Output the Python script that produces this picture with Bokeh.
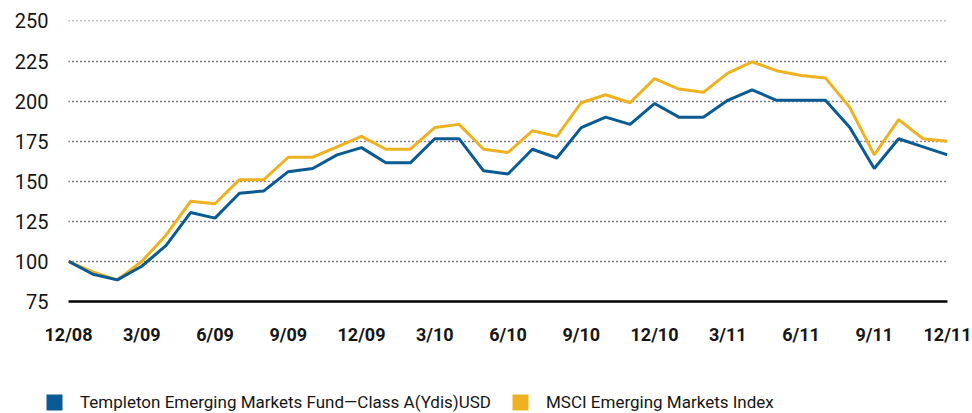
from bokeh.plotting import figure
from bokeh.layouts import column
from bokeh.models import Range1d, FixedTicker, Legend, LegendItem
from bokeh.embed import file_html
from bokeh.resources import INLINE

months = list(range(37))
tick_positions = [0, 3, 6, 9, 12, 15, 18, 21, 24, 27, 30, 33, 36]
tick_labels = ["12/08", "3/09", "6/09", "9/09", "12/09", "3/10", "6/10",
               "9/10", "12/10", "3/11", "6/11", "9/11", "12/11"]
y_ticks = [75, 100, 125, 150, 175, 200, 225, 250]

fund = [100, 92, 88.5, 97, 110, 130.5, 127, 142.5, 144, 156, 158, 166.5, 171,
        161.5, 161.5, 176.5, 176.5, 156.5, 154.5, 170, 164.5, 183.5, 190, 185.5,
        198.5, 190, 190, 200.5, 207, 200.5, 200.5, 200.5, 183.5, 158, 176.5,
        171.5, 166.5]
index = [100, 93.5, 88.5, 100, 116.5, 137.5, 136, 151, 151, 165, 165, 171.5, 178,
         170, 170, 183.5, 185.5, 170, 168, 181.5, 178, 199, 204, 199,
         214, 207.5, 205.5, 217.5, 224.5, 219, 216, 214.5, 196, 166.5, 188.5,
         176.5, 175]
fund_name = "Templeton Emerging Markets Fund\u2014Class A(Ydis)USD"
index_name = "MSCI Emerging Markets Index"

BLUE = "#0A5A94"
GOLD = "#EEB220"
TXT = "#161616"
FONT = "Roboto"
NAN = float("nan")

p = figure(width=972, height=390, output_backend="svg", toolbar_location=None,
           x_range=Range1d(0, 36), y_range=Range1d(75, 250.3),
           min_border_left=68, min_border_right=25, min_border_top=20,
           min_border_bottom=89)
p.outline_line_color = None
p.background_fill_color = "white"
p.border_fill_color = "white"

p.xgrid.grid_line_color = None
p.ygrid.ticker = FixedTicker(ticks=y_ticks)
p.ygrid.grid_line_color = "black"
p.ygrid.grid_line_width = 1.6
p.ygrid.grid_line_dash = "1 3"

p.yaxis.ticker = FixedTicker(ticks=y_ticks)
p.yaxis.axis_line_color = None
p.yaxis.major_tick_line_color = None
p.yaxis.minor_tick_line_color = None
p.yaxis.major_tick_out = 0
p.yaxis.major_label_standoff = 20
p.yaxis.major_label_text_font = FONT
p.yaxis.major_label_text_font_size = "20px"
p.yaxis.major_label_text_color = TXT

p.xaxis.ticker = FixedTicker(ticks=tick_positions)
p.xaxis.major_label_overrides = {t: l for t, l in zip(tick_positions, tick_labels)}
p.xaxis.axis_line_color = "black"
p.xaxis.axis_line_width = 2.5
p.xaxis.major_tick_line_color = None
p.xaxis.minor_tick_line_color = None
p.xaxis.major_tick_out = 0
p.xaxis.major_label_standoff = 22
p.xaxis.major_label_text_font = FONT
p.xaxis.major_label_text_font_style = "bold"
p.xaxis.major_label_text_font_size = "18px"
p.xaxis.major_label_text_color = TXT

r_idx = p.line(months, index, line_color=GOLD, line_width=3)
r_fund = p.line(months, fund, line_color=BLUE, line_width=3)

# legend strip underneath the chart
lg = figure(width=972, height=23, output_backend="svg", toolbar_location=None,
            x_range=Range1d(0, 1), y_range=Range1d(0, 1),
            x_axis_location=None, y_axis_location=None, min_border=0)
lg.outline_line_color = None
lg.grid.grid_line_color = None
for fig in (p, lg):
    try:
        fig.frame_align = False
    except Exception:
        pass

sq_fund = lg.quad(left=[NAN], right=[NAN], top=[NAN], bottom=[NAN],
                  fill_color=BLUE, line_color=None)
sq_idx = lg.quad(left=[NAN], right=[NAN], top=[NAN], bottom=[NAN],
                 fill_color=GOLD, line_color=None)

legend = Legend(items=[LegendItem(label=fund_name, renderers=[sq_fund]),
                       LegendItem(label=index_name, renderers=[sq_idx])],
                location=(44, 1), orientation="horizontal",
                glyph_width=20, glyph_height=20, label_height=20,
                label_width=430, label_standoff=16, spacing=0,
                padding=0, margin=0, border_line_color=None,
                background_fill_alpha=0, label_text_font=FONT,
                label_text_font_size="17px", label_text_color=TXT)
lg.add_layout(legend, "center")

open("out.html", "w").write(file_html(column(p, lg, spacing=0), INLINE))
